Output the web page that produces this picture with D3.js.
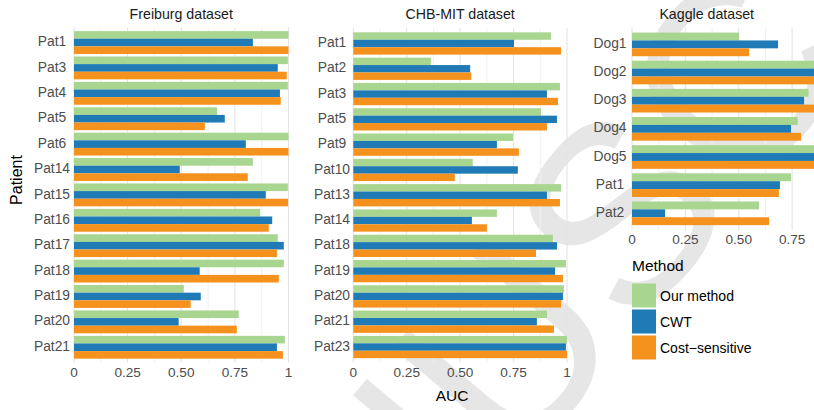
<!DOCTYPE html>
<html>
<head>
<meta charset="utf-8">
<script src="https://cdn.jsdelivr.net/npm/d3@7"></script>
<style>
  body { margin: 0; background: #fff; }
  svg { display: block; font-family: "Liberation Sans", Arial, sans-serif; }
</style>
</head>
<body>
<script>
// data
var methods = ["Our method", "CWT", "Cost\u2212sensitive"];
var colors = ["#a8d58f", "#1f7ab5", "#f5921e"];
var ticks = [0, 0.25, 0.5, 0.75, 1];
var tickLabels = ["0", "0.25", "0.50", "0.75", "1"];

var freiburgPatients = ["Pat1", "Pat3", "Pat4", "Pat5", "Pat6", "Pat14", "Pat15", "Pat16", "Pat17", "Pat18", "Pat19", "Pat20", "Pat21"];
var freiburgOurs = [1.0, 0.997, 0.997, 0.667, 1.0, 0.834, 0.997, 0.868, 0.95, 0.978, 0.512, 0.768, 0.983];
var freiburgCWT = [0.834, 0.95, 0.96, 0.703, 0.801, 0.493, 0.894, 0.924, 0.978, 0.586, 0.591, 0.488, 0.946];
var freiburgCost = [1.0, 0.992, 0.964, 0.61, 1.0, 0.81, 0.998, 0.908, 0.946, 0.955, 0.544, 0.759, 0.974];

var chbPatients = ["Pat1", "Pat2", "Pat3", "Pat5", "Pat9", "Pat10", "Pat13", "Pat14", "Pat18", "Pat19", "Pat20", "Pat21", "Pat23"];
var chbOurs = [0.925, 0.363, 0.967, 0.878, 0.747, 0.559, 0.972, 0.672, 0.934, 0.995, 0.986, 0.906, 1.0];
var chbCWT = [0.752, 0.547, 0.906, 0.953, 0.672, 0.77, 0.906, 0.555, 0.953, 0.944, 0.981, 0.859, 0.995];
var chbCost = [0.972, 0.552, 0.958, 0.906, 0.775, 0.475, 0.967, 0.625, 0.855, 0.981, 0.972, 0.939, 1.0];

var kaggleSubjects = ["Dog1", "Dog2", "Dog3", "Dog4", "Dog5", "Pat1", "Pat2"];
var kaggleOurs = [0.501, 0.95, 0.827, 0.776, 0.95, 0.745, 0.595];
var kaggleCWT = [0.684, 0.93, 0.806, 0.745, 0.94, 0.693, 0.155];
var kaggleCost = [0.548, 0.94, 0.88, 0.792, 0.96, 0.688, 0.642];

var W = 814, H = 410;
var svg = d3.select("body").append("svg").attr("width", W).attr("height", H);

// watermark behind everything
svg.append("text")
  .attr("transform", "translate(622,205) rotate(-50)")
  .attr("text-anchor", "middle")
  .attr("dy", "0.36em")
  .style("font-size", "255px")
  .style("fill", "#e6e6e6")
  .text("MANUSCRIPT");

var panels = [
  {title: "Freiburg dataset", cats: freiburgPatients, vals: [freiburgOurs, freiburgCWT, freiburgCost],
   x0: 74, x1: 288.5, top: 27.3, bottom: 362.5, pad: 0.1, labelX: 52, tickY: 377},
  {title: "CHB-MIT dataset", cats: chbPatients, vals: [chbOurs, chbCWT, chbCost],
   x0: 353.3, x1: 567, top: 28.3, bottom: 362.2, pad: 0.12, labelX: 332, tickY: 377},
  {title: "Kaggle dataset", cats: kaggleSubjects, vals: [kaggleOurs, kaggleCWT, kaggleCost],
   x0: 632, x1: 845.5, top: 27.5, bottom: 230.2, pad: 0.16, labelX: 610, tickY: 244}
];

panels.forEach(function(p) {
  var x = d3.scaleLinear().domain([0, 1]).range([p.x0, p.x1]);
  var po = 0.6 - (1 - p.pad) / 2;
  var y = d3.scaleBand().domain(p.cats).range([p.top, p.bottom])
    .paddingInner(p.pad).paddingOuter(po);
  var y1 = d3.scaleBand().domain(d3.range(3)).range([0, y.bandwidth()]);
  var g = svg.append("g");

  // grid
  g.selectAll(".minor").data(d3.range(0.125, 1, 0.25)).enter().append("line")
    .attr("x1", x).attr("x2", x).attr("y1", p.top).attr("y2", p.bottom)
    .attr("stroke", "#f0f0f0").attr("stroke-width", 1);
  g.selectAll(".major").data(ticks).enter().append("line")
    .attr("x1", x).attr("x2", x).attr("y1", p.top).attr("y2", p.bottom)
    .attr("stroke", "#e4e4e4").attr("stroke-width", 1.1);

  // bars
  p.cats.forEach(function(c, i) {
    p.vals.forEach(function(v, k) {
      g.append("rect")
        .attr("x", x(0))
        .attr("y", y(c) + y1(k))
        .attr("width", x(v[i]) - x(0))
        .attr("height", y1.bandwidth())
        .attr("fill", colors[k]);
    });
  });

  // category labels
  g.selectAll(".cat").data(p.cats).enter().append("text")
    .attr("x", p.labelX)
    .attr("y", function(d) { return y(d) + y.bandwidth() / 2 + 3.6; })
    .attr("text-anchor", "middle")
    .style("font-size", "13.8px").style("fill", "#4d4d4d")
    .text(function(d) { return d; });

  // tick labels (only those inside the page)
  var shown = ticks.filter(function(t) { return x(t) < W - 10; });
  g.selectAll(".tick").data(shown).enter().append("text")
    .attr("x", x).attr("y", p.tickY)
    .attr("text-anchor", "middle")
    .style("font-size", "13.6px").style("fill", "#4d4d4d")
    .text(function(d) { return tickLabels[ticks.indexOf(d)]; });

  // title
  g.append("text")
    .attr("x", (p.x0 + p.x1) / 2 - (p.x1 > W ? 32 : 0)).attr("y", 19)
    .attr("text-anchor", "middle")
    .style("font-size", "14.2px").style("fill", "#1a1a1a")
    .text(p.title);
});

// axis titles
svg.append("text")
  .attr("transform", "translate(22,180) rotate(-90)")
  .attr("text-anchor", "middle")
  .style("font-size", "16px").style("fill", "#000")
  .text("Patient");
svg.append("text")
  .attr("x", 452).attr("y", 401)
  .attr("text-anchor", "middle")
  .style("font-size", "15.5px").style("fill", "#000")
  .text("AUC");

// legend
var leg = svg.append("g").attr("transform", "translate(632,0)");
leg.append("text").attr("x", 0).attr("y", 271)
  .style("font-size", "15.5px").style("fill", "#000").text("Method");
leg.selectAll("rect").data(methods).enter().append("rect")
  .attr("x", 0).attr("y", function(d, i) { return 283.5 + i * 26; })
  .attr("width", 24).attr("height", 24)
  .attr("fill", function(d, i) { return colors[i]; });
leg.selectAll(".lab").data(methods).enter().append("text")
  .attr("x", 28).attr("y", function(d, i) { return 300.5 + i * 26; })
  .style("font-size", "14px").style("fill", "#000")
  .text(function(d) { return d; });
</script>
</body>
</html>
